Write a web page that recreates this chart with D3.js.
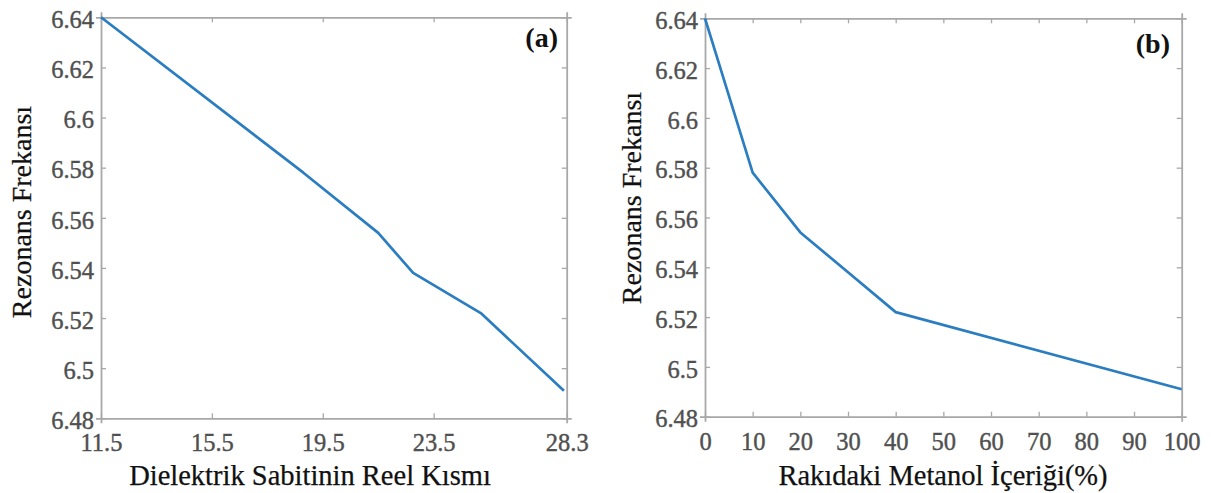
<!DOCTYPE html>
<html>
<head>
<meta charset="utf-8">
<script src="https://cdn.jsdelivr.net/npm/d3@7"></script>
<style>
  html, body { margin: 0; padding: 0; background: #fff; }
  svg { display: block; }
</style>
</head>
<body>
<svg id="chart" width="1211" height="493"></svg>
<script>
// Resonance frequency vs. real part of the dielectric constant (a)
const dielectricValues = [11.5, 18.8, 21.5, 22.76, 25.2, 28.2];
const freqA = [6.64, 6.578, 6.554, 6.538, 6.522, 6.491];
const xTicksA = [11.5, 15.5, 19.5, 23.5, 28.3];

// Resonance frequency vs. methanol content of raki in % (b)
const methanolPercent = [0, 10, 20, 30, 40, 100];
const freqB = [6.64, 6.578, 6.554, 6.538, 6.522, 6.491];
const xTicksB = [0, 10, 20, 30, 40, 50, 60, 70, 80, 90, 100];

const yTicks = [6.48, 6.5, 6.52, 6.54, 6.56, 6.58, 6.6, 6.62, 6.64];
const yTitle = "Rezonans Frekansı";

const svg = d3.select("#chart");
const serif = "'Liberation Serif', 'Times New Roman', serif";
const axisColor = "#a8a8a8";
const tickTextColor = "#505050";
const lineColor = "#2a7dc0";

function drawPanel(cfg) {
  const { left, right, top, bottom, xs, ys, xDomain, xTicks, xFmt, xTitle, xTitleX, yTitleX, yTitleY, tag, tagX, tagY } = cfg;
  const x = d3.scaleLinear().domain(xDomain).range([left, right]);
  const y = d3.scaleLinear().domain([6.48, 6.64]).range([bottom, top]);
  const g = svg.append("g");

  // inward ticks on all four sides, MATLAB box style
  const tl = 5;
  const axB = d3.axisBottom(x).tickValues(xTicks).tickSize(tl).tickFormat(xFmt);
  const axT = d3.axisTop(x).tickValues(xTicks).tickSize(tl).tickFormat("");
  const axL = d3.axisLeft(y).tickValues(yTicks).tickSize(tl).tickFormat(d3.format("~g"));
  const axR = d3.axisRight(y).tickValues(yTicks).tickSize(tl).tickFormat("");

  const gB = g.append("g").attr("transform", `translate(0,${bottom})`).call(axB);
  gB.selectAll(".tick line").attr("y2", -tl);
  gB.selectAll(".tick text").attr("y", 33).attr("dy", 0);
  const gT = g.append("g").attr("transform", `translate(0,${top})`).call(axT);
  gT.selectAll(".tick line").attr("y2", tl);
  const gL = g.append("g").attr("transform", `translate(${left},0)`).call(axL);
  gL.selectAll(".tick line").attr("x2", tl);
  gL.selectAll(".tick text").attr("x", -7).attr("dy", "0.42em");
  const gR = g.append("g").attr("transform", `translate(${right},0)`).call(axR);
  gR.selectAll(".tick line").attr("x2", -tl);

  g.selectAll(".domain").attr("stroke", axisColor).attr("stroke-width", 1.8);
  g.selectAll(".tick line").attr("stroke", axisColor).attr("stroke-width", 1.3);
  g.selectAll(".tick text")
    .attr("fill", tickTextColor)
    .attr("stroke", tickTextColor)
    .attr("stroke-width", 0.4)
    .attr("font-family", serif)
    .attr("font-size", 24.5);

  // data line
  const pts = xs.map((v, i) => [v, ys[i]]);
  g.append("path")
    .datum(pts)
    .attr("fill", "none")
    .attr("stroke", lineColor)
    .attr("stroke-width", 2.7)
    .attr("stroke-linejoin", "round")
    .attr("d", d3.line().x(d => x(d[0])).y(d => y(d[1])));

  // axis titles
  g.append("text")
    .attr("x", xTitleX).attr("y", 485)
    .attr("text-anchor", "middle")
    .attr("font-family", serif).attr("font-size", 28.5)
    .attr("fill", "#111").attr("stroke", "#111").attr("stroke-width", 0.25)
    .text(xTitle);
  g.append("text")
    .attr("transform", `translate(${yTitleX},${yTitleY}) rotate(-90)`)
    .attr("text-anchor", "middle")
    .attr("font-family", serif).attr("font-size", 28)
    .attr("fill", "#111").attr("stroke", "#111").attr("stroke-width", 0.25)
    .text(yTitle);

  // panel tag
  g.append("text")
    .attr("x", tagX).attr("y", tagY)
    .attr("text-anchor", "end")
    .attr("font-family", serif).attr("font-size", 28).attr("font-weight", "bold")
    .attr("fill", "#111")
    .text(tag);
}

drawPanel({
  left: 101, right: 566.7, top: 17.3, bottom: 418.3,
  xs: dielectricValues, ys: freqA,
  xDomain: [11.5, 28.3], xTicks: xTicksA, xFmt: d3.format(".1f"),
  xTitle: "Dielektrik Sabitinin Reel Kısmı", xTitleX: 310,
  yTitleX: 31, yTitleY: 212,
  tag: "(a)", tagX: 558, tagY: 47
});

drawPanel({
  left: 705, right: 1181.7, top: 18.3, bottom: 416.7,
  xs: methanolPercent, ys: freqB,
  xDomain: [0, 100], xTicks: xTicksB, xFmt: d3.format("d"),
  xTitle: "Rakıdaki Metanol İçeriği(%)", xTitleX: 943,
  yTitleX: 641, yTitleY: 198,
  tag: "(b)", tagX: 1170, tagY: 53
});
</script>
</body>
</html>
